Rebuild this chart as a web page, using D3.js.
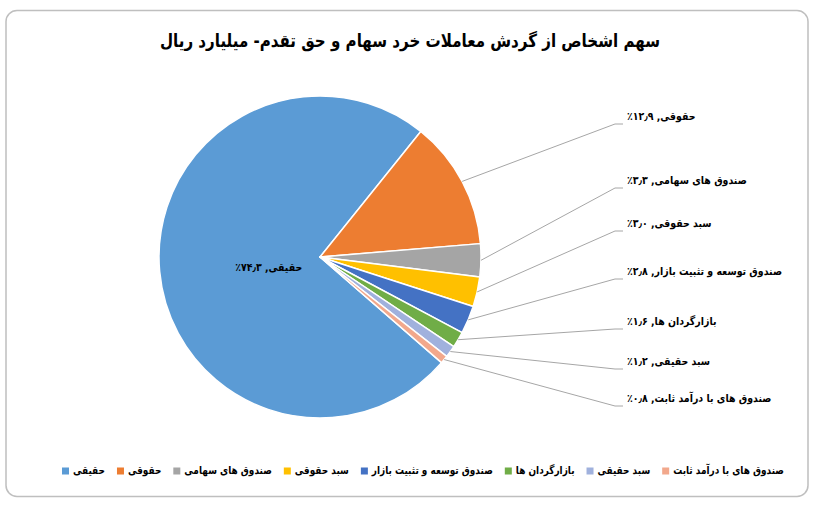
<!DOCTYPE html>
<html>
<head>
<meta charset="utf-8">
<script src="https://cdn.jsdelivr.net/npm/d3@7"></script>
<style>
  html, body { margin: 0; padding: 0; background: #fff; }
  svg { display: block; }
  text { font-family: "DejaVu Sans", sans-serif; font-weight: bold; fill: #000; }
</style>
</head>
<body>
<svg id="chart" width="815" height="507"></svg>
<script>
// ---- data ----
const title = "سهم اشخاص از گردش معاملات خرد سهام و حق تقدم- میلیارد ریال";
const categories = ["حقیقی", "حقوقی", "صندوق های سهامی", "سبد حقوقی",
  "صندوق توسعه و تثبیت بازار", "بازارگردان ها", "سبد حقیقی", "صندوق های با درآمد ثابت"];
const values = [74.3, 12.9, 3.3, 3.0, 2.8, 1.6, 1.2, 0.8];
const valueLabels = ["۷۴٫۳٪", "۱۲٫۹٪", "۳٫۳٪", "۳٫۰٪", "۲٫۸٪", "۱٫۶٪", "۱٫۲٪", "۰٫۸٪"];
const colors = ["#5B9BD5", "#ED7D31", "#A5A5A5", "#FFC000", "#4472C4", "#70AD47", "#A0B1DD", "#F2A88C"];

// ---- layout ----
const cx = 320, cy = 257, R = 161;
const startDeg = 131;
const labelX = 627;
// vertical rows of the outside labels (top to bottom), user-placed as in the reference
const labelRows = [117, 181, 224, 272, 322, 362, 399];
const leaderDrop = 7;

const svg = d3.select("#chart");

// horizontally condense a text (reference font is narrower than DejaVu)
function condense(sel, factor) {
  const w = sel.node().getComputedTextLength();
  sel.attr("textLength", (w * factor).toFixed(2)).attr("lengthAdjust", "spacingAndGlyphs");
  return w * factor;
}

// frame
svg.append("rect").attr("x", 6).attr("y", 10.5).attr("width", 802).attr("height", 486)
  .attr("rx", 11).attr("fill", "#fff").attr("stroke", "#BFBFBF").attr("stroke-width", 1.5);

// title
const t = svg.append("text").attr("x", 410).attr("y", 42)
  .attr("text-anchor", "middle").attr("dominant-baseline", "middle")
  .style("font-size", "18px").text(title);
condense(t, 500 / t.node().getComputedTextLength());

const data = categories.map((c, i) => ({ name: c, value: values[i], label: valueLabels[i], color: colors[i] }));

const pie = d3.pie().sort(null).value(d => d.value)
  .startAngle(startDeg * Math.PI / 180)
  .endAngle(startDeg * Math.PI / 180 + 2 * Math.PI);
const arcs = pie(data);

const arc = d3.arc().innerRadius(0).outerRadius(R);
const outerPt = d3.arc().innerRadius(R).outerRadius(R);
const innerLbl = d3.arc().innerRadius(0).outerRadius(R * 0.64);

const g = svg.append("g").attr("transform", `translate(${cx},${cy})`);
g.selectAll("path.slice").data(arcs).join("path")
  .attr("class", "slice")
  .attr("d", arc)
  .attr("fill", d => d.data.color)
  .attr("stroke", "#fff").attr("stroke-width", 1.5).attr("stroke-linejoin", "round");

// label font compression factor: label of 5th category spans ~155px in the reference
const labelFont = 11;
const probe = svg.append("text").style("font-size", labelFont + "px")
  .text(categories[4] + ", " + valueLabels[4]);
const lblFactor = Math.min(1, 155 / probe.node().getComputedTextLength());
probe.remove();

// inside label for the big slice
const big = arcs[0];
const bc = innerLbl.centroid(big);
const bt = g.append("text")
  .attr("x", bc[0]).attr("y", bc[1] + 6)
  .attr("text-anchor", "middle").attr("dominant-baseline", "middle")
  .attr("direction", "rtl").style("direction", "rtl").style("unicode-bidi", "embed")
  .style("font-size", labelFont + "px")
  .text(big.data.name + ", " + big.data.label);
condense(bt, lblFactor);

// outside labels with leader lines
const outside = arcs.slice(1);
outside.forEach((a, i) => {
  const p = outerPt.centroid(a);
  const sx = cx + p[0], sy = cy + p[1];
  const ly = labelRows[i] + leaderDrop;
  svg.append("polyline")
    .attr("points", [[sx, sy], [labelX - 12, ly], [labelX - 4, ly]].map(q => q.join(",")).join(" "))
    .attr("fill", "none").attr("stroke", "#A6A6A6").attr("stroke-width", 1);
  const lt = svg.append("text")
    .attr("x", labelX).attr("y", labelRows[i])
    .attr("text-anchor", "end").attr("dominant-baseline", "middle")
    .attr("direction", "rtl").style("direction", "rtl").style("unicode-bidi", "embed")
    .style("font-size", labelFont + "px")
    .text(a.data.name + ", " + a.data.label);
  condense(lt, lblFactor);
});

// legend
const legendY = 471;
const sq = 7, gapSq = 4, gapItem = 12;
const lg = svg.append("g");
const items = [];
data.forEach(d => {
  const it = lg.append("g");
  const r = it.append("rect").attr("width", sq).attr("height", sq).attr("y", legendY - sq / 2).attr("fill", d.color);
  const tx = it.append("text").attr("y", legendY).attr("dominant-baseline", "middle")
    .style("font-size", "11px").text(d.name);
  items.push({ r, tx, w: tx.node().getComputedTextLength() });
});
const textTotal = d3.sum(items, o => o.w);
const targetW = 722;
const legFactor = Math.min(1, (targetW - (sq + gapSq) * items.length - gapItem * (items.length - 1)) / textTotal);
let x = 62;
items.forEach(o => {
  o.r.attr("x", x);
  o.tx.attr("x", x + sq + gapSq).attr("text-anchor", "start");
  const w = condense(o.tx, legFactor);
  x += sq + gapSq + w + gapItem;
});
</script>
</body>
</html>
